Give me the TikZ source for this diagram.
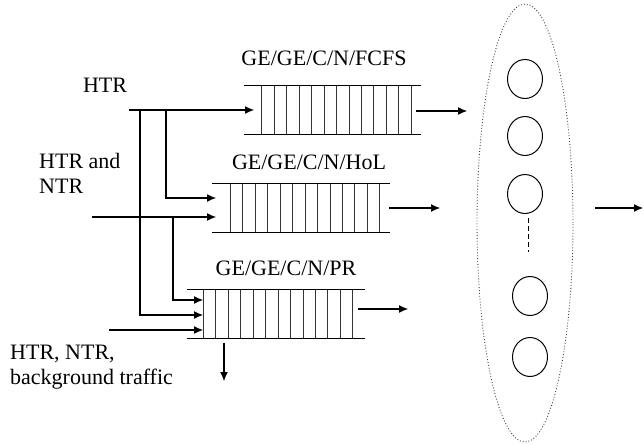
\documentclass[tikz,border=0pt]{standalone}
\usepackage{fontspec}
\setmainfont{Liberation Serif}
\usetikzlibrary{arrows.meta,positioning,shapes.geometric}

\begin{document}
\begin{tikzpicture}[
    x=1pt, y=-1pt,
    font=\fontsize{22}{25}\selectfont,
    lbl/.style={inner sep=0pt, align=left},
    queue/.style={rectangle, minimum width=177pt, minimum height=48pt, inner sep=0pt},
    server/.style={ellipse, draw, line width=1pt, minimum width=35pt, minimum height=39pt, inner sep=0pt},
    pool/.style={ellipse, draw=black!75, dotted, line width=0.9pt, minimum width=96pt, minimum height=438pt, inner sep=0pt},
    arr/.style={-{Latex[length=9pt,width=8pt]}, line width=1.1pt},
    wire/.style={line width=1.1pt},
    bar/.style={line width=0.8pt, black!80}
]
\useasboundingbox (0,0) rectangle (644,444);

% Labels
\node[lbl] (htrtxt) at (105,85) {HTR};
\node[lbl, anchor=north west] (mixtxt) at (39,153) {HTR and\\NTR};
\node[lbl, anchor=north west] (bgtxt) at (10,345) {HTR, NTR,\\background traffic};

% Queues
\node[queue] (fcfs) at (332.5,110) {};
\node[queue] (hol) at (301,208) {};
\node[queue] (pr) at (276,314) {};
\node[lbl] (fcfstxt) at (324,58) {GE/GE/C/N/FCFS};
\node[lbl] (holtxt) at (309,162) {GE/GE/C/N/HoL};
\node[lbl] (prtxt) at (286,268) {GE/GE/C/N/PR};

\foreach \q/\o in {fcfs/18, hol/18, pr/16} {
  \draw[wire] (\q.north west) -- (\q.north east);
  \draw[wire] (\q.south west) -- (\q.south east);
  \foreach \i in {0,...,12}
    \draw[bar] ([xshift=\o pt+\i*12.45pt]\q.north west) -- ([xshift=\o pt+\i*12.45pt]\q.south west);
}

% Servers
\node[pool] (pool) at (525,223) {};
\node[server] (s1) at (525,79) {};
\node[server] (s2) at (525,136) {};
\node[server] (s3) at (525,194) {};
\node[server] (s4) at (530,296) {};
\node[server] (s5) at (530,357) {};
\coordinate (dots1) at (528,218);
\coordinate (dots2) at (528,252);
\draw[dash pattern=on 5pt off 3pt, line width=0.9pt] (dots1) -- (dots2);

% Sources and branch points
\coordinate (src1) at (129,110);
\coordinate (src2) at (92,217);
\coordinate (src3) at (109,330);
\coordinate (j1) at (140,110);
\coordinate (j2) at (166,110);
\coordinate (j3) at (173,217);
\coordinate (fcfsin) at (254,110);
\coordinate (holin1) at (216,198);
\coordinate (holin2) at (216,217);
\coordinate (prin1) at (203,300);
\coordinate (prin2) at (203,315);
\coordinate (prin3) at (203,330);

% Inputs
\draw[arr] (src1) -- (fcfsin);
\draw[arr] (j2) |- (holin1);
\draw[arr] (j1) |- (prin2);
\draw[arr] (src2) -- (holin2);
\draw[arr] (j3) |- (prin1);
\draw[arr] (src3) -- (prin3);

% Outputs
\coordinate (fcfsout) at (416,111);
\coordinate (fcfsend) at (467,111);
\coordinate (holout) at (389,208);
\coordinate (holend) at (440,208);
\coordinate (prout) at (358,309);
\coordinate (prend) at (408,309);
\coordinate (drop) at (224,343);
\coordinate (dropend) at (224,381);
\coordinate (poolout) at (595,208);
\coordinate (poolend) at (643,208);
\draw[arr] (fcfsout) -- (fcfsend);
\draw[arr] (holout) -- (holend);
\draw[arr] (prout) -- (prend);
\draw[arr] (drop) -- (dropend);
\draw[arr] (poolout) -- (poolend);

\end{tikzpicture}
\end{document}
